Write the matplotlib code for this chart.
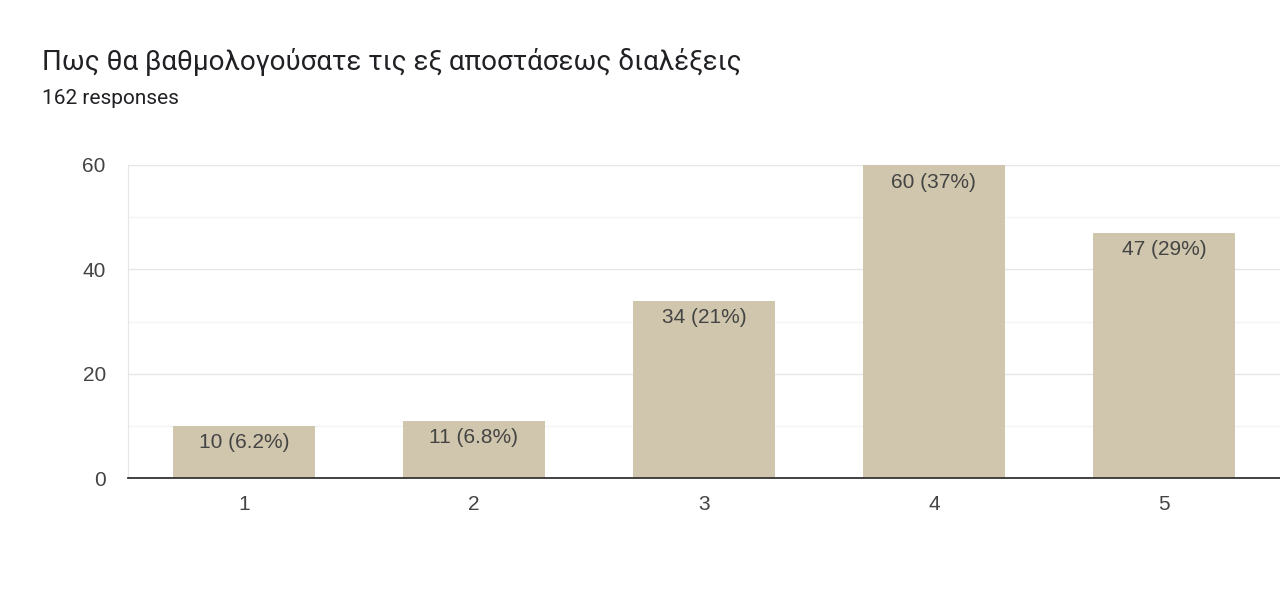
import numpy as np
import matplotlib.pyplot as plt

# Survey data
ratings = ['1', '2', '3', '4', '5']
counts = np.array([10, 11, 34, 60, 47])
percents = ['6.2%', '6.8%', '21%', '37%', '29%']
total = 162

bar_color = '#d0c6ad'
text_color = '#444444'

fig = plt.figure(figsize=(12.8, 6.09), dpi=100)
ax = fig.add_axes([128 / 1280, 1 - 478 / 609, 1152 / 1280, 313 / 609])

x = np.arange(1, len(ratings) + 1)
ax.bar(x, counts, width=0.617, color=bar_color, zorder=3)

for xi, c, p in zip(x, counts, percents):
    ax.annotate(f'{c} ({p})', (xi, c), xytext=(0, -5.5), textcoords='offset points',
                ha='center', va='top', fontsize=15, color=text_color,
                family='Liberation Sans', zorder=4)

ax.set_xlim(0.496, 5.505)
ax.set_ylim(0, 60)
ax.set_xticks(x)
ax.set_xticklabels(ratings)
ax.set_yticks([0, 20, 40, 60])
ax.set_yticks([10, 30, 50], minor=True)
ax.grid(axis='y', which='major', color='#e6e6e6', lw=1, zorder=0)
ax.grid(axis='y', which='minor', color='#f3f3f3', lw=1, zorder=0)
ax.tick_params(axis='both', which='both', length=0, labelsize=15, labelcolor=text_color)
ax.tick_params(axis='x', pad=12)
ax.tick_params(axis='y', pad=16)
for lbl in ax.get_xticklabels() + ax.get_yticklabels():
    lbl.set_family('Liberation Sans')

ax.spines['right'].set_visible(False)
ax.spines['top'].set_color('#e6e6e6')
ax.spines['left'].set_color('#e6e6e6')
ax.spines['bottom'].set_color('#333333')
ax.spines['bottom'].set_linewidth(1.3)
ax.spines['bottom'].set_zorder(5)

fig.text(42 / 1280, 1 - 62 / 609, 'Πως θα βαθμολογούσατε τις εξ αποστάσεως διαλέξεις',
         fontsize=20, family='Roboto', color='#202124', va='center')
fig.text(42 / 1280, 1 - 98 / 609, f'{total} responses',
         fontsize=15, family='Roboto', color='#202124', va='center')

fig.savefig('out.png', dpi=100, facecolor='white')
